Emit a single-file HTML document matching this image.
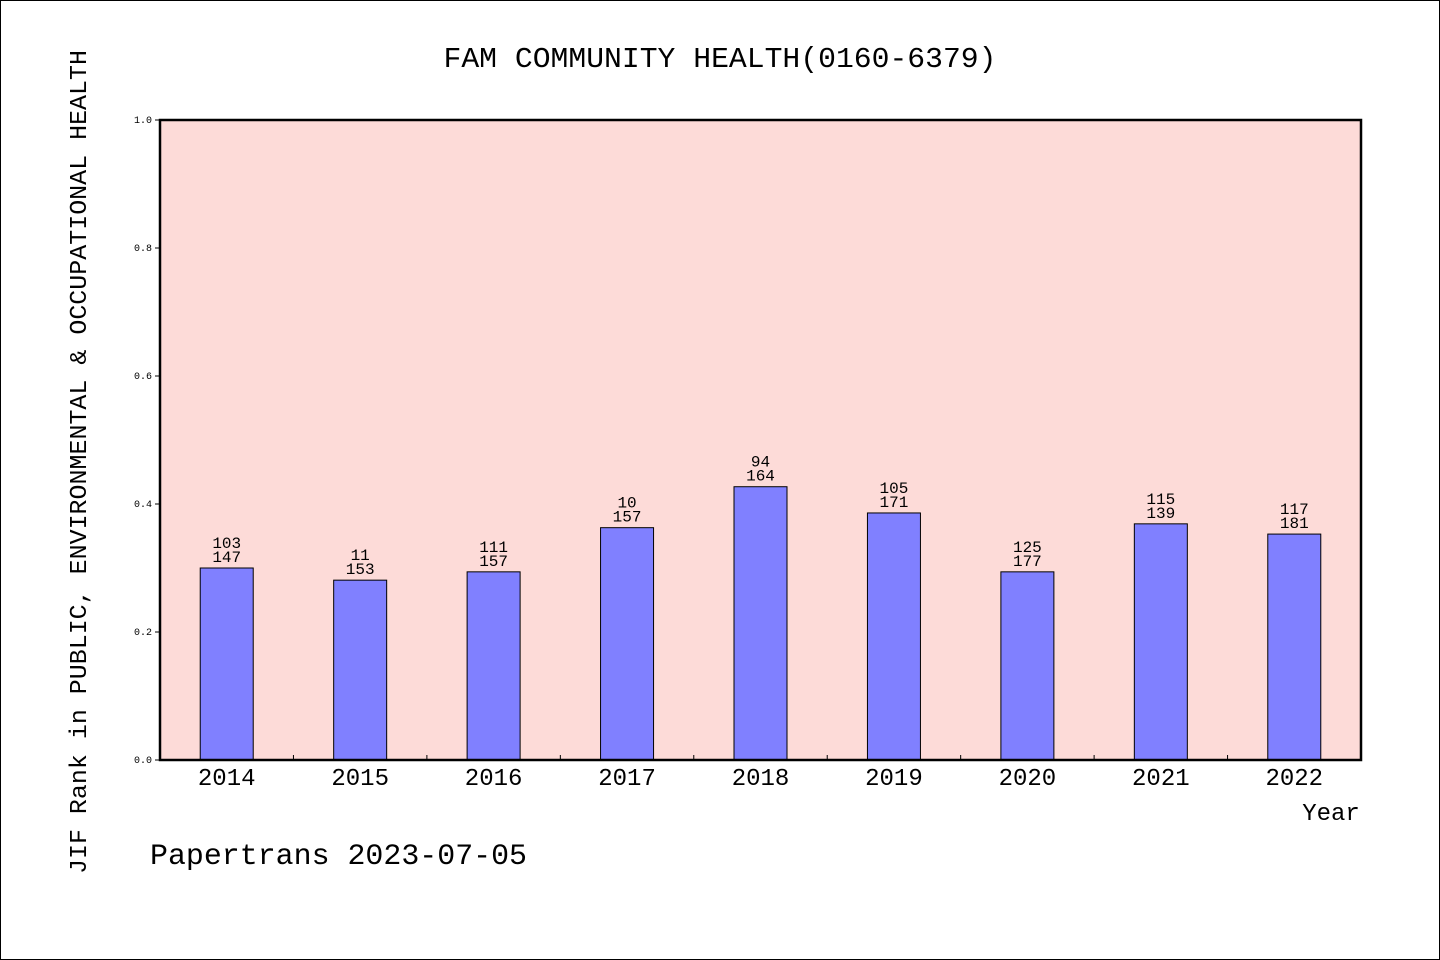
<!DOCTYPE html>
<html><head><meta charset="utf-8"><style>
html,body{margin:0;padding:0;background:#fff}
svg{display:block}
text{font-family:"Liberation Mono","WenQuanYi Zen Hei",monospace;fill:#000}
</style></head><body>
<svg width="1440" height="960">
<rect x="0.5" y="0.5" width="1439" height="959" fill="#fff" stroke="#000"/>
<text x="720" y="67" text-anchor="middle" font-size="29" textLength="553" lengthAdjust="spacingAndGlyphs">FAM COMMUNITY HEALTH(0160-6379)</text>
<rect x="160" y="120" width="1201" height="640" fill="#fddbd8"/>
<g id="g"></g>
<rect x="160" y="120" width="1201" height="640" fill="none" stroke="#000" stroke-width="2.5"/>
<text x="1331" y="820" text-anchor="middle" font-size="24">Year</text>
<text transform="translate(86,462) rotate(-90)" text-anchor="middle" font-size="24" textLength="824" lengthAdjust="spacingAndGlyphs">JIF Rank in PUBLIC, ENVIRONMENTAL &amp; OCCUPATIONAL HEALTH</text>
<text x="150" y="864" font-size="30" textLength="377" lengthAdjust="spacingAndGlyphs">Papertrans 2023-07-05</text>
</svg>
<script>
const years=["2014","2015","2016","2017","2018","2019","2020","2021","2022"];
const values=[0.300,0.281,0.294,0.363,0.427,0.386,0.294,0.369,0.353];
const rankLabels=["103","11","111","10","94","105","125","115","117"];
const totalLabels=["147","153","157","157","164","171","177","139","181"];
const yTicks=[0,0.2,0.4,0.6,0.8,1.0];
const NS="http://www.w3.org/2000/svg";
const g=document.getElementById('g');
const X0=160,W=1201,Y0=760,H=640;
const step=W/years.length;
const y=v=>Y0-v*H;
const xc=i=>X0+step*(i+0.5);
function mk(t,a,txt){const e=document.createElementNS(NS,t);for(const k in a)e.setAttribute(k,a[k]);if(txt!=null)e.textContent=txt;g.appendChild(e);return e;}
yTicks.forEach(t=>{
 const l=mk('line',{x1:X0-5,x2:X0,y1:y(t),y2:y(t),stroke:'#000'});
 
 
 const tx=mk('text',{x:X0-8,y:y(t)+3,'text-anchor':'end','font-size':10},t.toFixed(1));
 
 
});
years.forEach((yr,i)=>{
 const b=mk('rect',{x:xc(i)-26.5,y:y(values[i]),width:53,height:values[i]*H,fill:'#8080ff',stroke:'#000','stroke-width':1});
 
 
 const t1=mk('text',{x:xc(i),y:y(values[i])-20,'text-anchor':'middle','font-size':16},rankLabels[i]);
 
 
 const t2=mk('text',{x:xc(i),y:y(values[i])-6,'text-anchor':'middle','font-size':16},totalLabels[i]);
 
 
 const xl=mk('text',{x:xc(i),y:785,'text-anchor':'middle','font-size':24},yr);
 
 
 if(i>0){const tk=mk('line',{x1:X0+step*i,x2:X0+step*i,y1:Y0,y2:Y0-5,stroke:'#000'});
 
 }
});
</script>
</body></html>
